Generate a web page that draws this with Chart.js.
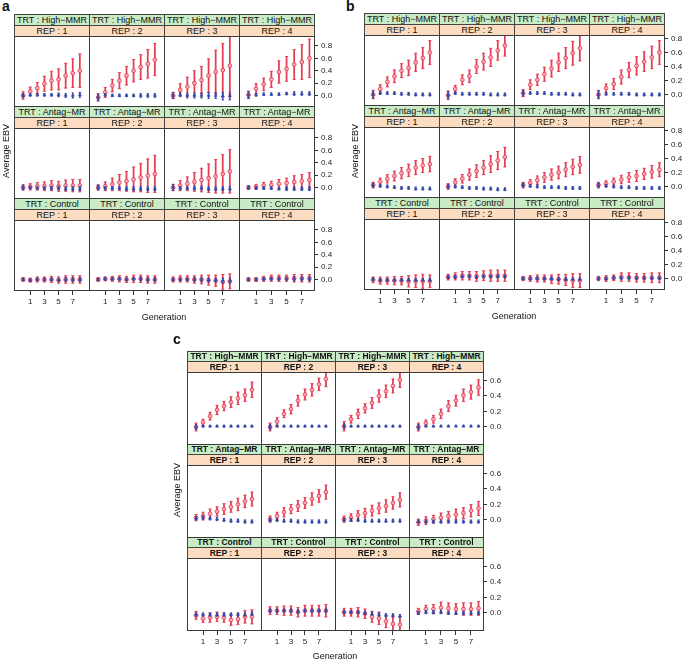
<!DOCTYPE html>
<html>
<head>
<meta charset="utf-8">
<script src="https://cdn.jsdelivr.net/npm/chart.js@4.4.0/dist/chart.umd.min.js"></script>
<style>
body { margin: 0; background: #fff; font-family: "Liberation Sans", Arial, sans-serif; }
#tela { position: relative; width: 685px; height: 662px; overflow: hidden; background: #fff; }
.faixa { position: absolute; box-sizing: border-box; border: 1px solid #444; text-align: center; color: #111; white-space: nowrap; overflow: hidden; font-size: 9px; }
.verde { background: #c9ebc6; }
.pessego { background: #fbdcc1; }
.moldura { position: absolute; box-sizing: border-box; border: 1px solid #3a3a3a; z-index: 3; }
canvas { position: absolute; }
.txt { position: absolute; white-space: nowrap; color: #111; }
</style>
</head>
<body>
<div id="tela"></div>
<script>
var geracoes = [0, 1, 2, 3, 4, 5, 6, 7, 8];
var ticksX = [1, 3, 5, 7];
var ticksYab = [0, 0.2, 0.4, 0.6, 0.8];
var ticksYc = [0, 0.2, 0.4, 0.6];
var tratamentos = ['High−MMR', 'Antag−MR', 'Control'];
var repeticoes = [1, 2, 3, 4];

// ---------- painel a ----------
var aHighRed = [
    [0, 0.065, 0.12, 0.19, 0.24, 0.26, 0.32, 0.36, 0.40],
    [-0.03, 0.05, 0.16, 0.24, 0.32, 0.40, 0.46, 0.51, 0.58],
    [0, 0.09, 0.145, 0.2, 0.25, 0.32, 0.38, 0.41, 0.48],
    [0.01, 0.11, 0.18, 0.26, 0.38, 0.43, 0.5, 0.54, 0.60]
];
var aHighRedErr = [
    [0.06, 0.07, 0.09, 0.12, 0.15, 0.17, 0.2, 0.23, 0.27],
    [0.06, 0.08, 0.1, 0.13, 0.15, 0.18, 0.2, 0.23, 0.26],
    [0.05, 0.1, 0.15, 0.2, 0.22, 0.27, 0.35, 0.43, 0.47],
    [0.06, 0.08, 0.1, 0.13, 0.18, 0.2, 0.24, 0.28, 0.31]
];
var aHighBlue = [
    [0, 0.01, 0.01, 0.01, 0.01, 0.01, 0, 0, 0.01],
    [-0.03, 0.01, 0, 0, 0, 0, 0, 0, 0],
    [0, 0.01, 0, 0, 0, 0, 0, -0.01, -0.01],
    [0.01, 0.01, 0.02, 0.02, 0.02, 0.03, 0.03, 0.03, 0.03]
];
var aHighBlueErr = [
    [0.03, 0.02, 0.02, 0.02, 0.02, 0.03, 0.03, 0.04, 0.04],
    [0.05, 0.02, 0.02, 0.02, 0.02, 0.02, 0.03, 0.03, 0.03],
    [0.05, 0.03, 0.04, 0.04, 0.04, 0.05, 0.05, 0.06, 0.06],
    [0.05, 0.02, 0.02, 0.02, 0.02, 0.02, 0.03, 0.03, 0.03]
];
var aAntagRed = [
    [0, 0.01, 0.02, 0.02, 0.03, 0.02, 0.03, 0.03, 0.03],
    [0, 0.02, 0.05, 0.08, 0.1, 0.13, 0.16, 0.19, 0.22],
    [0, 0.03, 0.06, 0.09, 0.12, 0.15, 0.18, 0.22, 0.26],
    [0, 0.01, 0.03, 0.04, 0.06, 0.07, 0.09, 0.1, 0.12]
];
var aAntagRedErr = [
    [0.04, 0.05, 0.06, 0.07, 0.08, 0.08, 0.09, 0.1, 0.1],
    [0.04, 0.07, 0.1, 0.13, 0.16, 0.2, 0.23, 0.27, 0.3],
    [0.05, 0.08, 0.11, 0.15, 0.19, 0.23, 0.27, 0.31, 0.35],
    [0.03, 0.04, 0.05, 0.06, 0.07, 0.08, 0.1, 0.11, 0.12]
];
var aAntagBlue = [
    [0, 0, -0.01, -0.01, -0.01, -0.01, -0.02, -0.02, -0.02],
    [0, -0.01, -0.01, -0.01, -0.02, -0.02, -0.02, -0.02, -0.02],
    [0, -0.01, -0.01, -0.01, -0.01, -0.02, -0.02, -0.02, -0.02],
    [0, -0.01, -0.01, -0.01, -0.02, -0.02, -0.02, -0.02, -0.02]
];
var aAntagBlueErr = [
    [0.04, 0.02, 0.02, 0.02, 0.03, 0.03, 0.03, 0.03, 0.03],
    [0.04, 0.02, 0.02, 0.02, 0.03, 0.03, 0.03, 0.03, 0.03],
    [0.05, 0.02, 0.02, 0.03, 0.03, 0.03, 0.03, 0.03, 0.03],
    [0.03, 0.02, 0.02, 0.02, 0.02, 0.03, 0.03, 0.03, 0.03]
];
var aCtrlRed = [
    [0, -0.01, 0, 0, 0, -0.01, 0, 0, 0],
    [0, 0.01, 0.01, 0.01, 0, 0.01, 0.01, 0, 0],
    [0, 0.01, 0.01, 0, 0, -0.01, -0.02, -0.04, -0.03],
    [0, 0, 0.01, 0.02, 0.02, 0.02, 0.02, 0.02, 0.02]
];
var aCtrlRedErr = [
    [0.03, 0.03, 0.04, 0.04, 0.05, 0.05, 0.06, 0.06, 0.06],
    [0.03, 0.03, 0.04, 0.05, 0.05, 0.06, 0.06, 0.06, 0.06],
    [0.04, 0.05, 0.05, 0.06, 0.07, 0.08, 0.09, 0.12, 0.12],
    [0.03, 0.03, 0.04, 0.05, 0.05, 0.05, 0.06, 0.06, 0.06]
];
var aCtrlBlue = [
    [0, -0.01, 0, 0, 0, -0.01, 0, 0, 0],
    [0, 0.01, 0.01, 0.01, 0, 0.01, 0.01, 0, 0],
    [0, 0, 0, 0, 0, -0.01, -0.01, -0.02, -0.02],
    [0, 0, 0.01, 0.01, 0.01, 0.01, 0.01, 0.01, 0.01]
];
var aCtrlBlueErr = [
    [0.02, 0.02, 0.02, 0.02, 0.02, 0.02, 0.03, 0.03, 0.03],
    [0.02, 0.02, 0.02, 0.02, 0.02, 0.02, 0.03, 0.03, 0.03],
    [0.02, 0.02, 0.02, 0.03, 0.03, 0.03, 0.03, 0.04, 0.04],
    [0.02, 0.02, 0.02, 0.02, 0.02, 0.02, 0.03, 0.03, 0.03]
];

// ---------- painel b ----------
var bHighRed = [
    [0, 0.08, 0.18, 0.26, 0.34, 0.38, 0.46, 0.52, 0.60],
    [-0.01, 0.08, 0.21, 0.26, 0.40, 0.47, 0.53, 0.63, 0.70],
    [0.02, 0.14, 0.21, 0.29, 0.37, 0.46, 0.52, 0.59, 0.66],
    [0, 0.09, 0.15, 0.25, 0.35, 0.41, 0.47, 0.53, 0.60]
];
var bHighRedErr = [
    [0.06, 0.06, 0.07, 0.09, 0.1, 0.11, 0.13, 0.15, 0.17],
    [0.06, 0.05, 0.07, 0.09, 0.1, 0.12, 0.13, 0.14, 0.15],
    [0.05, 0.07, 0.08, 0.1, 0.12, 0.13, 0.15, 0.17, 0.18],
    [0.06, 0.06, 0.08, 0.1, 0.11, 0.13, 0.14, 0.16, 0.17]
];
var bHighBlue = [
    [0, 0.02, 0.02, 0.02, 0.01, 0.01, 0, 0, 0],
    [-0.01, 0.02, 0.01, 0.01, 0.01, 0.01, 0, 0, 0],
    [0.02, 0.02, 0.02, 0.02, 0.01, 0.01, 0.01, 0, 0],
    [0, 0.01, 0.01, 0.01, 0.01, 0, 0, 0, 0]
];
var bHighBlueErr = [
    [0.05, 0.02, 0.02, 0.02, 0.02, 0.02, 0.02, 0.02, 0.02],
    [0.05, 0.02, 0.02, 0.02, 0.02, 0.02, 0.02, 0.02, 0.02],
    [0.04, 0.02, 0.02, 0.02, 0.02, 0.02, 0.02, 0.02, 0.02],
    [0.05, 0.02, 0.02, 0.02, 0.02, 0.02, 0.02, 0.02, 0.02]
];
var bAntagRed = [
    [0.02, 0.07, 0.11, 0.15, 0.19, 0.23, 0.27, 0.3, 0.32],
    [0, 0.06, 0.11, 0.17, 0.22, 0.27, 0.32, 0.37, 0.42],
    [0.02, 0.05, 0.09, 0.13, 0.17, 0.2, 0.24, 0.28, 0.31],
    [0.02, 0.04, 0.07, 0.1, 0.13, 0.15, 0.18, 0.21, 0.24]
];
var bAntagRedErr = [
    [0.04, 0.05, 0.06, 0.07, 0.08, 0.09, 0.1, 0.1, 0.11],
    [0.04, 0.05, 0.06, 0.08, 0.09, 0.1, 0.12, 0.13, 0.14],
    [0.04, 0.05, 0.06, 0.07, 0.08, 0.09, 0.1, 0.11, 0.12],
    [0.04, 0.04, 0.05, 0.06, 0.07, 0.08, 0.08, 0.09, 0.1]
];
var bAntagBlue = [
    [0.02, 0.01, 0, -0.01, -0.02, -0.02, -0.03, -0.03, -0.03],
    [0, 0, -0.01, -0.02, -0.02, -0.03, -0.03, -0.04, -0.04],
    [0.02, 0.01, 0, -0.01, -0.01, -0.01, -0.02, -0.02, -0.02],
    [0.02, 0.01, 0, -0.01, -0.01, -0.02, -0.02, -0.02, -0.02]
];
var bAntagBlueErr = [
    [0.03, 0.02, 0.02, 0.02, 0.02, 0.02, 0.02, 0.02, 0.02],
    [0.03, 0.02, 0.02, 0.02, 0.02, 0.02, 0.02, 0.02, 0.02],
    [0.03, 0.02, 0.02, 0.02, 0.02, 0.02, 0.02, 0.02, 0.02],
    [0.03, 0.02, 0.02, 0.02, 0.02, 0.02, 0.02, 0.02, 0.02]
];
var bCtrlRed = [
    [-0.02, -0.03, -0.03, -0.03, -0.03, -0.04, -0.04, -0.04, -0.04],
    [0.02, 0.03, 0.04, 0.04, 0.03, 0.04, 0.04, 0.04, 0.04],
    [0, 0, 0, 0, -0.01, -0.01, -0.02, -0.03, -0.03],
    [0, 0, 0.01, 0.02, 0.02, 0.01, 0.01, 0.01, 0.01]
];
var bCtrlRedErr = [
    [0.04, 0.05, 0.05, 0.06, 0.06, 0.08, 0.09, 0.1, 0.09],
    [0.04, 0.05, 0.06, 0.06, 0.07, 0.07, 0.08, 0.08, 0.08],
    [0.03, 0.04, 0.05, 0.05, 0.06, 0.07, 0.08, 0.1, 0.1],
    [0.03, 0.04, 0.04, 0.06, 0.06, 0.06, 0.06, 0.07, 0.07]
];
var bCtrlBlue = [
    [-0.01, -0.02, -0.02, -0.02, -0.02, -0.02, -0.02, -0.02, -0.02],
    [0.02, 0.02, 0.03, 0.03, 0.02, 0.03, 0.03, 0.03, 0.03],
    [0, 0, 0, 0, 0, -0.01, -0.01, -0.01, -0.01],
    [0, 0, 0.01, 0.01, 0.01, 0.01, 0.01, 0.01, 0.01]
];
var bCtrlBlueErr = [
    [0.02, 0.02, 0.02, 0.02, 0.02, 0.02, 0.02, 0.02, 0.02],
    [0.02, 0.02, 0.02, 0.02, 0.02, 0.02, 0.02, 0.02, 0.02],
    [0.02, 0.02, 0.02, 0.02, 0.02, 0.02, 0.02, 0.02, 0.02],
    [0.02, 0.02, 0.02, 0.02, 0.02, 0.02, 0.02, 0.02, 0.02]
];

// ---------- painel c ----------
var cHighRed = [
    [0, 0.06, 0.14, 0.22, 0.27, 0.32, 0.37, 0.41, 0.48],
    [0, 0.07, 0.17, 0.23, 0.34, 0.42, 0.48, 0.55, 0.62],
    [0.01, 0.1, 0.17, 0.24, 0.31, 0.40, 0.46, 0.53, 0.61],
    [0, 0.05, 0.1, 0.17, 0.27, 0.34, 0.41, 0.45, 0.51]
];
var cHighRedErr = [
    [0.05, 0.04, 0.05, 0.06, 0.06, 0.07, 0.08, 0.08, 0.1],
    [0.05, 0.05, 0.05, 0.06, 0.07, 0.07, 0.08, 0.08, 0.1],
    [0.06, 0.05, 0.06, 0.06, 0.07, 0.08, 0.08, 0.09, 0.1],
    [0.05, 0.04, 0.05, 0.06, 0.07, 0.07, 0.08, 0.09, 0.1]
];
var cHighBlue = [
    [0, 0.01, 0.01, 0.01, 0.01, 0.01, 0.01, 0.01, 0.01],
    [0, 0.01, 0.01, 0.01, 0.01, 0.01, 0.01, 0.01, 0.01],
    [0.01, 0.01, 0.01, 0.01, 0.01, 0.01, 0.01, 0.01, 0.01],
    [0, 0.01, 0.01, 0.01, 0.01, 0.01, 0.01, 0.01, 0.01]
];
var cHighBlueErr = [
    [0.03, 0.01, 0.01, 0.01, 0.01, 0.01, 0.01, 0.01, 0.01],
    [0.03, 0.01, 0.01, 0.01, 0.01, 0.01, 0.01, 0.01, 0.01],
    [0.03, 0.01, 0.01, 0.01, 0.01, 0.01, 0.01, 0.01, 0.01],
    [0.03, 0.01, 0.01, 0.01, 0.01, 0.01, 0.01, 0.01, 0.01]
];
var cAntagRed = [
    [0.03, 0.05, 0.08, 0.11, 0.14, 0.17, 0.2, 0.24, 0.27],
    [0.01, 0.05, 0.1, 0.14, 0.18, 0.22, 0.27, 0.31, 0.36],
    [0.01, 0.03, 0.06, 0.09, 0.12, 0.15, 0.18, 0.22, 0.26],
    [-0.03, -0.01, 0.01, 0.03, 0.05, 0.07, 0.09, 0.12, 0.15]
];
var cAntagRedErr = [
    [0.04, 0.05, 0.06, 0.06, 0.07, 0.07, 0.08, 0.08, 0.09],
    [0.04, 0.05, 0.06, 0.06, 0.07, 0.07, 0.08, 0.08, 0.09],
    [0.04, 0.05, 0.06, 0.06, 0.07, 0.07, 0.08, 0.08, 0.09],
    [0.04, 0.05, 0.05, 0.06, 0.06, 0.07, 0.07, 0.08, 0.09]
];
var cAntagBlue = [
    [0.02, 0.03, 0.02, 0.01, 0, -0.01, -0.01, -0.02, -0.02],
    [0, 0, -0.01, -0.01, -0.02, -0.02, -0.02, -0.02, -0.02],
    [0, 0, 0, -0.01, -0.01, -0.01, -0.01, -0.01, -0.01],
    [-0.02, -0.02, -0.02, -0.02, -0.02, -0.02, -0.02, -0.02, -0.02]
];
var cAntagBlueErr = [
    [0.02, 0.02, 0.02, 0.02, 0.02, 0.02, 0.02, 0.02, 0.02],
    [0.02, 0.02, 0.02, 0.02, 0.02, 0.02, 0.02, 0.02, 0.02],
    [0.02, 0.02, 0.02, 0.02, 0.02, 0.02, 0.02, 0.02, 0.02],
    [0.02, 0.02, 0.02, 0.02, 0.02, 0.02, 0.02, 0.02, 0.02]
];
var cCtrlRed = [
    [-0.03, -0.07, -0.06, -0.05, -0.06, -0.09, -0.08, -0.05, -0.05],
    [0.03, 0.03, 0.03, 0.03, 0.01, 0.03, 0.03, 0.03, 0.03],
    [0.01, 0.01, 0.01, -0.01, -0.05, -0.07, -0.11, -0.14, -0.15],
    [0.02, 0.05, 0.05, 0.07, 0.06, 0.05, 0.05, 0.05, 0.06]
];
var cCtrlRedErr = [
    [0.05, 0.05, 0.06, 0.06, 0.06, 0.07, 0.07, 0.08, 0.09],
    [0.05, 0.05, 0.06, 0.06, 0.06, 0.07, 0.07, 0.07, 0.08],
    [0.05, 0.05, 0.06, 0.06, 0.07, 0.08, 0.08, 0.09, 0.1],
    [0.04, 0.05, 0.06, 0.07, 0.07, 0.07, 0.08, 0.08, 0.09]
];
var cCtrlBlue = [
    [-0.02, -0.02, -0.02, -0.02, -0.02, -0.02, -0.02, -0.02, -0.01],
    [0.03, 0.03, 0.03, 0.03, 0.02, 0.03, 0.03, 0.03, 0.03],
    [0.01, 0.01, 0.01, 0, -0.01, -0.02, -0.03, -0.03, -0.04],
    [0, 0.01, 0.01, 0.01, 0, 0, 0, 0, 0]
];
var cCtrlBlueErr = [
    [0.02, 0.02, 0.02, 0.02, 0.02, 0.02, 0.02, 0.02, 0.02],
    [0.02, 0.02, 0.02, 0.02, 0.02, 0.02, 0.02, 0.02, 0.02],
    [0.02, 0.02, 0.02, 0.02, 0.02, 0.02, 0.02, 0.02, 0.02],
    [0.02, 0.02, 0.02, 0.02, 0.02, 0.02, 0.02, 0.02, 0.02]
];

var corVermelho = 'rgb(230, 60, 82)';
var corVermelhoFundo = 'rgba(248, 190, 198, 0.8)';
var corAzul = 'rgb(52, 72, 168)';

var paineis = [
    { letra: 'a', left: 14, top: 14, colW: 75, pitch: 92, strip: 22, ymin: -0.17, ymax: 0.96, ticksY: ticksYab, negrito: false, fonte: 9,
      letraX: 2, letraY: -2, ebvX: 6, ebvY: 152, genX: 164, genY: 318,
      dados: [[aHighRed, aHighRedErr, aHighBlue, aHighBlueErr], [aAntagRed, aAntagRedErr, aAntagBlue, aAntagBlueErr], [aCtrlRed, aCtrlRedErr, aCtrlBlue, aCtrlBlueErr]] },
    { letra: 'b', left: 364, top: 13, colW: 75, pitch: 92, strip: 22, ymin: -0.15, ymax: 0.85, ticksY: ticksYab, negrito: false, fonte: 9,
      letraX: 346, letraY: -2, ebvX: 355, ebvY: 152, genX: 514, genY: 317,
      dados: [[bHighRed, bHighRedErr, bHighBlue, bHighBlueErr], [bAntagRed, bAntagRedErr, bAntagBlue, bAntagBlueErr], [bCtrlRed, bCtrlRedErr, bCtrlBlue, bCtrlBlueErr]] },
    { letra: 'c', left: 187, top: 351, colW: 74, pitch: 93, strip: 21, ymin: -0.22, ymax: 0.71, ticksY: ticksYc, negrito: true, fonte: 8.5,
      letraX: 173, letraY: 331, ebvX: 177, ebvY: 491, genX: 335, genY: 657,
      dados: [[cHighRed, cHighRedErr, cHighBlue, cHighBlueErr], [cAntagRed, cAntagRedErr, cAntagBlue, cAntagBlueErr], [cCtrlRed, cCtrlRedErr, cCtrlBlue, cCtrlBlueErr]] }
];

var tela = document.getElementById('tela');

function criar_div(classe, x, y, w, h, texto) {
    var d = document.createElement('div');
    d.className = classe;
    d.style.left = x + 'px';
    d.style.top = y + 'px';
    if (w != null) d.style.width = w + 'px';
    if (h != null) d.style.height = h + 'px';
    if (texto != null) d.textContent = texto;
    tela.appendChild(d);
    return d;
}

function montar_datasets(red, redErr, blue, blueErr) {
    var barrasR = [], capsR = [], pontosR = [];
    var barrasB = [], capsB = [], pontosB = [];
    for (let i = 0; i < geracoes.length; i++) {
        var g = geracoes[i];
        barrasR.push({ x: g, y: [red[i] - redErr[i], red[i] + redErr[i]] });
        capsR.push({ x: g, y: red[i] - redErr[i] });
        capsR.push({ x: g, y: red[i] + redErr[i] });
        pontosR.push({ x: g, y: red[i] });
        barrasB.push({ x: g, y: [blue[i] - blueErr[i], blue[i] + blueErr[i]] });
        capsB.push({ x: g, y: blue[i] - blueErr[i] });
        capsB.push({ x: g, y: blue[i] + blueErr[i] });
        pontosB.push({ x: g, y: blue[i] });
    }
    // azul por cima (order menor = desenhado por ultimo)
    return [
        { type: 'scatter', data: pontosB, order: 0, pointStyle: 'triangle', pointRadius: 1.8, backgroundColor: corAzul, borderColor: corAzul, borderWidth: 0.5 },
        { type: 'scatter', data: capsB, order: 1, pointStyle: 'line', pointRadius: 1.2, borderColor: corAzul, borderWidth: 0.8 },
        { type: 'bar', data: barrasB, order: 2, grouped: false, barThickness: 0.8, backgroundColor: corAzul, borderWidth: 0 },
        { type: 'scatter', data: pontosR, order: 3, pointStyle: 'circle', pointRadius: 1.9, backgroundColor: corVermelhoFundo, borderColor: corVermelho, borderWidth: 0.9 },
        { type: 'scatter', data: capsR, order: 4, pointStyle: 'line', pointRadius: 1.6, borderColor: corVermelho, borderWidth: 0.9 },
        { type: 'bar', data: barrasR, order: 5, grouped: false, barThickness: 1.1, backgroundColor: corVermelho, borderWidth: 0 }
    ];
}

function criar_celula(p, linha, col) {
    var x = p.left + col * p.colW;
    var y = p.top + linha * p.pitch;
    var plotH = p.pitch - p.strip;
    var meia = Math.floor(p.strip / 2);
    var peso = p.negrito ? 'bold' : 'normal';

    var verde = criar_div('faixa verde', x, y, p.colW + 1, meia + 1, 'TRT : ' + tratamentos[linha]);
    verde.style.lineHeight = (meia - 1) + 'px';
    verde.style.fontWeight = peso;
    verde.style.fontSize = p.fonte + 'px';
    var pessego = criar_div('faixa pessego', x, y + meia, p.colW + 1, p.strip - meia + 1, 'REP : ' + repeticoes[col]);
    pessego.style.lineHeight = (p.strip - meia - 1) + 'px';
    pessego.style.fontWeight = peso;
    pessego.style.fontSize = p.fonte + 'px';
    criar_div('moldura', x, y + p.strip, p.colW + 1, plotH + 1);

    var direita = col == 3;
    var ultima = linha == 2;
    var larguraY = direita ? 26 : 0;
    var alturaX = ultima ? 30 : 0;
    var canva = document.createElement('canvas');
    var w = p.colW + larguraY;
    var h = plotH + 6 + (ultima ? alturaX : 6);
    canva.width = w;
    canva.height = h;
    canva.style.left = x + 'px';
    canva.style.top = (y + p.strip - 6) + 'px';
    canva.style.width = w + 'px';
    canva.style.height = h + 'px';
    tela.appendChild(canva);

    var d = p.dados[linha];
    var ticksY = p.ticksY;

    new Chart(canva, {
        type: 'scatter',
        data: { datasets: montar_datasets(d[0][col], d[1][col], d[2][col], d[3][col]) },
        options: {
            responsive: false,
            animation: false,
            devicePixelRatio: 1,
            layout: { padding: { top: 6, bottom: ultima ? 0 : 6, left: 0, right: 0 } },
            plugins: { legend: { display: false }, tooltip: { enabled: false } },
            scales: {
                x: {
                    type: 'linear', min: -0.6, max: 8.6, offset: false,
                    display: ultima,
                    border: { display: false },
                    grid: { display: true, drawOnChartArea: false, drawTicks: true, tickLength: 5, color: '#333', offset: false },
                    ticks: { font: { size: 8, family: 'Liberation Sans' }, color: '#222', padding: 2, maxRotation: 0 },
                    afterBuildTicks: function (s) { s.ticks = ticksX.map(function (v) { return { value: v }; }); },
                    afterFit: function (s) { s.height = alturaX; s.paddingLeft = 0; s.paddingRight = 0; }
                },
                y: {
                    type: 'linear', position: 'right', min: p.ymin, max: p.ymax,
                    display: direita,
                    border: { display: false },
                    grid: { display: true, drawOnChartArea: false, drawTicks: true, tickLength: 4, color: '#333' },
                    ticks: { font: { size: 8, family: 'Liberation Sans' }, color: '#222', padding: 3,
                        callback: function (v) { return Number(v).toFixed(1); } },
                    afterBuildTicks: function (s) { s.ticks = ticksY.map(function (v) { return { value: v }; }); },
                    afterFit: function (s) { s.width = larguraY; s.paddingTop = 0; s.paddingBottom = 0; }
                }
            }
        }
    });
}

for (let k = 0; k < paineis.length; k++) {
    var p = paineis[k];
    for (let linha = 0; linha < 3; linha++) {
        for (let col = 0; col < 4; col++) {
            criar_celula(p, linha, col);
        }
    }
    var letra = criar_div('txt', p.letraX, p.letraY, null, null, p.letra);
    letra.style.fontSize = '14px';
    letra.style.fontWeight = 'bold';

    var gen = criar_div('txt', p.genX - 40, p.genY - 6, 80, null, 'Generation');
    gen.style.fontSize = '9px';
    gen.style.textAlign = 'center';

    var ebv = criar_div('txt', p.ebvX - 40, p.ebvY - 6, 80, null, 'Average EBV');
    ebv.style.fontSize = '9px';
    ebv.style.textAlign = 'center';
    ebv.style.transform = 'rotate(-90deg)';
}
</script>
</body>
</html>
